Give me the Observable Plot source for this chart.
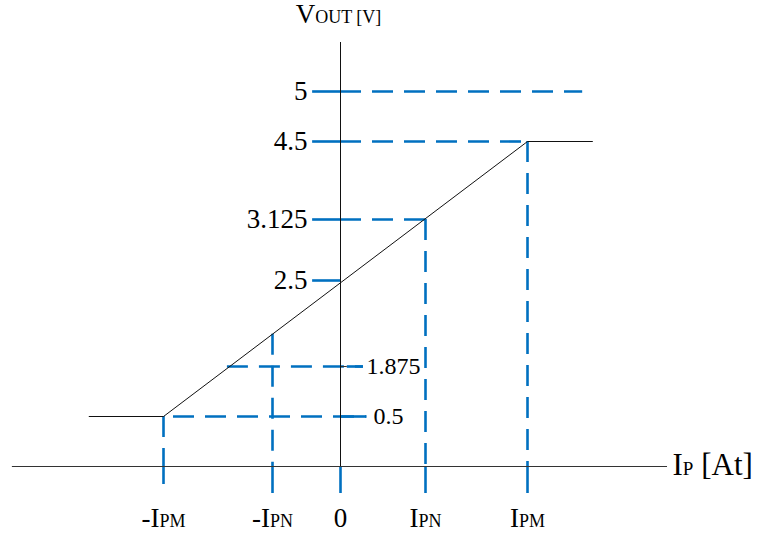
<!DOCTYPE html>
<html>
<head>
<meta charset="utf-8">
<script src="https://cdn.jsdelivr.net/npm/d3@7"></script>
<script src="https://cdn.jsdelivr.net/npm/@observablehq/plot@0.6"></script>
<style>
  html, body { margin: 0; padding: 0; background: #fff; }
  svg text { font-family: "Liberation Serif", "Times New Roman", serif; }
</style>
</head>
<body>
<div id="chart"></div>
<script>
// ---- data (schematic units: current in multiples of IPN, voltage in V) ----
const xTickValues = [-3.2, -1, 0, 1, 3.2];
const xTickLabels = ["-IPM", "-IPN", "0", "IPN", "IPM"];
const xTickBottom = [-0.18, -0.27, -0.27, -0.27, -0.27];

const yTickValues = [0.5, 1.875, 2.5, 3.125, 4.5, 5];
const yTickLabels = ["0.5", "1.875", "2.5", "3.125", "4.5", "5"];
const yLabelSide  = ["right", "right", "left", "left", "left", "left"];

// transfer characteristic (saturates at 0.5 V and 4.5 V)
const transferX = [-4.7, -3.2, 3.2, 4.6];
const transferY = [0.5, 0.5, 4.5, 4.5];

// dashed horizontal guides
const hGuideY    = [5, 4.5, 3.125, 1.875];
const hGuideFrom = [0, 0, 0, -1.91];
const hGuideTo   = [4.39, 3.2, 1, 0.27];
const lowGuideY = 0.5, lowGuideFrom = -3.2, lowGuideTo = 0.31;

// dashed vertical guides
const vGuideX   = [-3.2, -1, 1, 3.2];
const vGuideTop = [0.5, 2.11, 3.125, 4.5];

// short solid ticks left of the vertical axis
const leftTickY = [5, 4.5, 3.125, 2.5];
const leftTickFrom = -0.41;

// axes extents
const xAxisFrom = -6.25, xAxisTo = 6.22, yAxisTop = 5.49;

const xTitle = "IP [At]";
const yTitle = "VOUT [V]";

// knots of the (schematic, not-to-scale) drawing
const xKnots = [-3.2, -1, 0, 1, 3.2];
const yKnots = [0, 0.5, 1.875, 2.5, 3.125, 4.5, 5];

// ---- build ----
const blue = "#0070C0";
const dash = "21,11";
const serif = "Liberation Serif, Times New Roman, serif";
const hGuides = hGuideY.map((y, i) => ({y, x1: hGuideFrom[i], x2: hGuideTo[i]}));
const vGuides = vGuideX.map((x, i) => ({x, y1: vGuideTop[i], y2: 0}));
const xTicks = xTickValues.map((x, i) => ({x, label: xTickLabels[i], bottom: xTickBottom[i]}));
const yTicks = yTickValues.map((y, i) => ({y, label: yTickLabels[i], side: yLabelSide[i]}));
const transfer = transferX.map((x, i) => ({x, y: transferY[i]}));

const plot = Plot.plot({
  width: 759,
  height: 538,
  margin: 0,
  style: {fontFamily: serif, background: "#fff", color: "#000"},
  x: {type: "linear", domain: xKnots, range: [163, 272, 340, 425, 527], axis: null},
  y: {type: "linear", domain: yKnots, range: [466, 416, 366, 280, 219, 141, 91], axis: null},
  marks: [
    // dashed guides
    Plot.ruleY(hGuides, {y: "y", x1: "x1", x2: "x2", stroke: blue, strokeWidth: 2.6, strokeDasharray: dash}),
    Plot.ruleY([lowGuideY], {x1: lowGuideFrom, x2: lowGuideTo, stroke: blue, strokeWidth: 2.6, strokeDasharray: dash, strokeDashoffset: 22}),
    Plot.ruleX(vGuides, {x: "x", y1: "y1", y2: "y2", stroke: blue, strokeWidth: 2.6, strokeDasharray: dash}),
    // solid ticks
    Plot.ruleY(leftTickY, {x1: leftTickFrom, x2: 0, stroke: blue, strokeWidth: 2.6}),
    Plot.ruleY([0.5], {x1: 0, x2: lowGuideTo, stroke: blue, strokeWidth: 2.6}),
    Plot.ruleY([1.875], {x1: 0.08, x2: 0.27, stroke: blue, strokeWidth: 2.6}),
    Plot.ruleY([1.875], {x1: 0, x2: 0.08, stroke: "#333", strokeWidth: 1}),
    Plot.ruleX(xTicks, {x: "x", y1: 0, y2: "bottom", stroke: blue, strokeWidth: 2.6}),
    // transfer characteristic
    Plot.line(transfer, {x: "x", y: "y", stroke: "#111", strokeWidth: 1}),
    // axes
    Plot.ruleY([0], {x1: xAxisFrom, x2: xAxisTo, stroke: "#333", strokeWidth: 1.2}),
    Plot.ruleX([0], {y1: 0, y2: yAxisTop, stroke: "#111", strokeWidth: 1}),
    // tick labels
    Plot.text(yTicks.filter(d => d.side === "left"), {x: 0, y: "y", text: "label", textAnchor: "end", dx: -33, fontSize: 27, fontFamily: serif, fill: "#000"}),
    Plot.text(yTicks.filter(d => d.label === "1.875"), {x: 0, y: "y", text: "label", textAnchor: "start", dx: 26, fontSize: 24, fontFamily: serif, fill: "#000"}),
    Plot.text(yTicks.filter(d => d.label === "0.5"), {x: 0, y: "y", text: "label", textAnchor: "start", dx: 33, fontSize: 24, fontFamily: serif, fill: "#000"}),
    Plot.text(xTicks, {x: "x", y: 0, text: "label", dy: 60, lineAnchor: "bottom", textAnchor: "middle", fontSize: 27, fontFamily: serif, fill: "#000"}),
    // axis titles
    Plot.text([yTitle], {x: 0, y: yAxisTop, text: d => d, dy: -20, dx: -2, lineAnchor: "bottom", textAnchor: "middle", fontSize: 27, fontFamily: serif, fill: "#000"}),
    Plot.text([xTitle], {x: xAxisTo, y: 0, text: d => d, dx: 5, dy: -1, lineAnchor: "middle", textAnchor: "start", fontSize: 31, fontFamily: serif, fill: "#000"})
  ]
});

// small-caps style subscripts (same baseline, smaller size)
const rich = {
  "-IPM": [["-I", 0], ["PM", 18]],
  "-IPN": [["-I", 0], ["PN", 18]],
  "IPN": [["I", 0], ["PN", 18]],
  "IPM": [["I", 0], ["PM", 18]],
  "VOUT [V]": [["V", 0], ["OUT [V]", 18]],
  "IP [At]": [["I", 0], ["P", 19], [" [At]", 0]]
};
plot.querySelectorAll("text").forEach(t => {
  t.setAttribute("font-family", serif);
  const parts = rich[t.textContent];
  if (!parts) return;
  t.textContent = "";
  t.style.whiteSpace = "pre";
  for (const [s, size] of parts) {
    const ts = document.createElementNS("http://www.w3.org/2000/svg", "tspan");
    ts.textContent = s;
    if (size) ts.setAttribute("font-size", size);
    t.appendChild(ts);
  }
});

document.getElementById("chart").appendChild(plot);
</script>
</body>
</html>
